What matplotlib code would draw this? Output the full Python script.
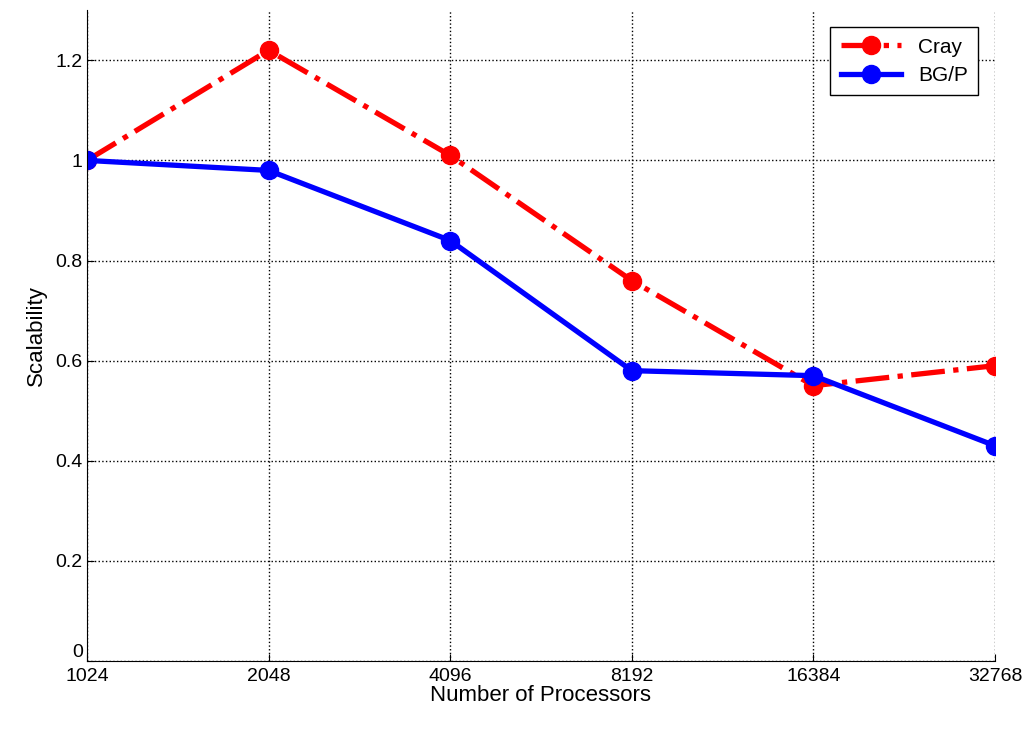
import matplotlib
matplotlib.use("Agg")
import matplotlib.pyplot as plt

procs = ["1024", "2048", "4096", "8192", "16384", "32768"]
cray = [1.0, 1.22, 1.01, 0.76, 0.55, 0.59]
bgp = [1.0, 0.98, 0.84, 0.58, 0.57, 0.43]

plt.rcParams['font.family'] = ['Liberation Sans', 'DejaVu Sans']

fig = plt.figure(figsize=(10.29, 7.3), dpi=100)
ax = fig.add_axes([0.0845, 0.0945, 0.8825, 0.8915])

x = range(len(procs))
ax.plot(x, cray, color='red', linestyle='-.', linewidth=3.8, marker='o',
        markersize=13, label='Cray')
ax.plot(x, bgp, color='blue', linestyle='-', linewidth=3.8, marker='o',
        markersize=13, label='BG/P')

ax.set_xlim(0, 5)
ax.set_ylim(0, 1.3)
ax.set_xticks(list(x))
ax.set_xticklabels(procs)
ax.set_yticks([0, 0.2, 0.4, 0.6, 0.8, 1.0, 1.2])
ax.set_yticklabels(["0", "0.2", "0.4", "0.6", "0.8", "1", "1.2"])
ax.tick_params(labelsize=14, direction='in', length=5)
ax.tick_params(axis='x', pad=5)
ax.tick_params(axis='y', pad=3)
ax.get_yticklabels()[0].set_verticalalignment('bottom')
ax.grid(True, linestyle=':', color='black', linewidth=1)
ax.spines['top'].set_visible(False)
ax.spines['right'].set_visible(False)

ax.set_xlabel("Number of Processors", fontsize=16, labelpad=0)
ax.set_ylabel("Scalability", fontsize=16, labelpad=6)

leg = ax.legend(loc='upper right', fontsize=15, fancybox=False, framealpha=1,
                edgecolor='black', bbox_to_anchor=(0.993, 0.99), handlelength=2.9,
                borderpad=0.5, labelspacing=0.45)
leg.get_frame().set_linewidth(1)

fig.savefig("out.png", dpi=100)
